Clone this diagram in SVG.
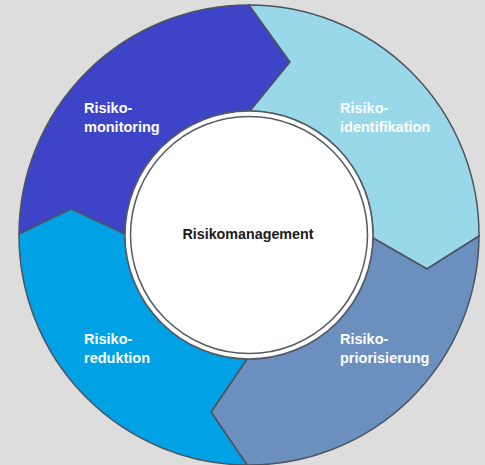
<svg xmlns="http://www.w3.org/2000/svg" width="485" height="465" viewBox="0 0 485 465">
  <style>
    .seg { stroke: #4d5360; stroke-width: 1.5; stroke-linejoin: miter; }
    .lbl { font-family: "Liberation Sans", Arial, sans-serif; font-weight: bold; font-size: 14.5px; fill: #ffffff; }
    .ctr { font-family: "Liberation Sans", Arial, sans-serif; font-weight: bold; font-size: 14.3px; fill: #1a1a1a; }
    .ring { fill: #ffffff; stroke: #555a63; stroke-width: 1.5; }
  </style>
  <rect x="0" y="0" width="485" height="465" fill="#dddddd"/>
  <g id="monitoring">
    <path class="seg" fill="#3d44c8" d="M19,234 A230,230 0 0 1 249,5 L290,62 L250,111 A124,124 0 0 0 125,234 L71,209 Z"/>
    <text class="lbl" x="84" y="113">Risiko-</text>
    <text class="lbl" x="84" y="132">monitoring</text>
  </g>
  <g id="identifikation">
    <path class="seg" fill="#98d8e9" d="M249,5 A230,230 0 0 1 479,236 L427,269 L373,238 A124,124 0 0 0 250,111 L290,62 Z"/>
    <text class="lbl" x="340" y="113">Risiko-</text>
    <text class="lbl" x="340" y="132">identifikation</text>
  </g>
  <g id="priorisierung">
    <path class="seg" fill="#6b8fbf" d="M479,236 A230,230 0 0 1 247,465 L211,412 L247,359 A124,124 0 0 0 373,238 L427,269 Z"/>
    <text class="lbl" x="340" y="344">Risiko-</text>
    <text class="lbl" x="340" y="363">priorisierung</text>
  </g>
  <g id="reduktion">
    <path class="seg" fill="#00a2e5" d="M247,465 A230,230 0 0 1 19,234 L71,209 L125,234 A124,124 0 0 0 247,359 L211,412 Z"/>
    <text class="lbl" x="84" y="344">Risiko-</text>
    <text class="lbl" x="84" y="363">reduktion</text>
  </g>
  <g id="risikomanagement">
    <circle class="ring" cx="249" cy="235" r="124"/>
    <circle class="ring" cx="249" cy="235" r="118.5"/>
    <text class="ctr" x="248" y="239" text-anchor="middle">Risikomanagement</text>
  </g>
</svg>
